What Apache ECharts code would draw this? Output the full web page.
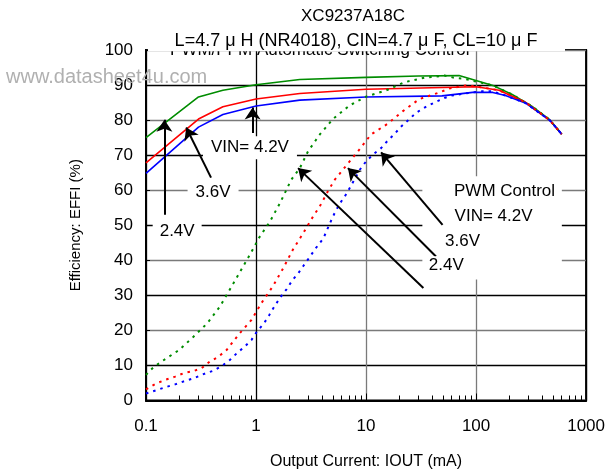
<!DOCTYPE html>
<html><head><meta charset="utf-8">
<script src="https://cdn.jsdelivr.net/npm/echarts@6/dist/echarts.min.js"></script>
<style>html,body{margin:0;padding:0;background:#fff}#c{width:608px;height:476px}</style>
</head><body><div id="c"></div>
<script>
const FONT = '"Liberation Sans", Arial, sans-serif';

// Axis tick labels
const xTickLabels = ['0.1', '1', '10', '100', '1000'];
const yTicks = [0, 10, 20, 30, 40, 50, 60, 70, 80, 90, 100];

// PWM/PFM automatic switching control (solid lines): IOUT (mA), EFFI (%)
const autoG_I = [0.1, 0.3, 0.5, 1, 2.5, 10, 30, 70, 93, 142, 213, 323, 466, 600];
const autoG_E = [75, 86.6, 88.5, 90.1, 91.6, 92.2, 92.6, 92.7, 91.6, 89.9, 87.3, 83.9, 80.1, 76];
const autoR_I = [0.1, 0.3, 0.5, 1, 2.5, 10, 50, 100, 162, 280, 466, 600];
const autoR_E = [67.8, 80.3, 83.8, 86, 87.6, 88.8, 89.3, 89.5, 88.5, 85.1, 80, 76];
const autoB_I = [0.1, 0.3, 0.5, 1, 2.5, 10, 49, 93, 142, 185, 280, 466, 600];
const autoB_E = [64.8, 78, 81.6, 84, 85.7, 86.6, 86.9, 87.9, 87.9, 87, 84.9, 80, 76];

// PWM control (dotted lines)
const pwmG_I = [0.1, 0.117, 0.14, 0.2, 0.27, 0.36, 0.47, 0.62, 0.88, 1.07, 1.34, 1.65, 2.09, 2.5, 2.97, 3.8, 5, 7.1, 10, 15.3, 22.3, 34, 51.5, 63, 78, 114, 142, 213, 323, 466, 600];
const pwmG_E = [7.3, 9.5, 11.2, 14.4, 18.2, 22, 26.8, 33.3, 41.6, 46.5, 51.1, 56.3, 63, 66.3, 71.1, 75.9, 80.3, 84.2, 86.7, 88.5, 90.8, 92.1, 92.7, 92.1, 91.8, 90.6, 89.9, 87.3, 83.9, 80.1, 76];
const pwmR_I = [0.1, 0.121, 0.149, 0.184, 0.22, 0.27, 0.32, 0.38, 0.455, 0.54, 0.69, 0.91, 1.12, 1.43, 1.77, 2.16, 2.69, 3.3, 3.8, 4.5, 5.2, 6.6, 8.6, 11.1, 15.8, 21.5, 30.5, 46.5, 57, 81, 100, 162, 280, 466, 600];
const pwmR_E = [3.2, 4.7, 5.9, 6.8, 7.8, 8.4, 9.2, 11.1, 12.5, 14.4, 18.7, 23, 27.8, 32.7, 37.8, 43, 47.8, 52.5, 55.4, 59.7, 63, 67, 71.4, 75.9, 79, 82.5, 86, 87.9, 89, 89.9, 89.6, 88.5, 85.1, 80, 76];
const pwmB_I = [0.1, 0.126, 0.15, 0.184, 0.227, 0.27, 0.35, 0.41, 0.49, 0.58, 0.67, 0.79, 0.91, 1.02, 1.18, 1.32, 1.48, 1.67, 1.9, 2.15, 2.42, 2.68, 3.1, 3.5, 4.1, 4.7, 5.2, 5.8, 6.4, 7.1, 8.8, 10, 11.5, 13.7, 15.8, 18.1, 20.9, 24, 28.5, 35, 42.4, 51.5, 60, 92.7, 114, 142, 185, 280, 466, 600];
const pwmB_E = [2, 3, 3.8, 4.6, 5.6, 6.3, 7.8, 8.5, 9.9, 11.6, 13.5, 15.4, 17.3, 19.7, 22, 24.4, 27, 29.5, 31.8, 34.4, 36.3, 38.3, 41.1, 43.5, 46.3, 50.6, 53.6, 56.3, 58.2, 60.6, 65.9, 68.2, 70.1, 72, 74.2, 76, 78.2, 79.9, 82.1, 83.8, 85.1, 86.3, 87, 87.9, 88.2, 88.2, 87, 84.9, 80, 76];

const pair = (xs, ys) => xs.map((x, i) => [x, ys[i]]);
const GREEN = '#008c00', RED = '#ff0000', BLUE = '#0000ff';

// minor tick positions of the log axis (2..9 x each decade)
const minorTicks = [];
for (let d = -1; d < 3; d++) for (let m = 2; m <= 9; m++) minorTicks.push(+(m * Math.pow(10, d)).toPrecision(3));

function solid(name, xs, ys, color) {
  return { name, type: 'line', data: pair(xs, ys), showSymbol: false, symbol: 'none',
    lineStyle: { color, width: 1.6 }, itemStyle: { color }, z: 3, animation: false, silent: true };
}
function dotted(name, xs, ys, color) {
  return { name, type: 'line', data: pair(xs, ys), showSymbol: false, symbol: 'none',
    lineStyle: { color, width: 2, type: [2.5, 5] }, itemStyle: { color }, z: 3, animation: false, silent: true };
}

const lblStyle = (txt, pad) => ({ show: true, position: 'inside', formatter: txt, color: '#000',
  fontFamily: FONT, fontSize: 17, backgroundColor: '#fff', padding: pad });
const mp = (coord, txt, pad) => ({ coord, symbol: 'rect', symbolSize: 1,
  itemStyle: { color: 'rgba(0,0,0,0)' }, label: lblStyle(txt, pad) });
const arrow = (from, to) => [{ coord: from, symbol: 'none' }, { coord: to, symbol: 'arrow', symbolSize: 12 }];

const annot = {
  name: 'annotations', type: 'line', data: [], z: 4, animation: false, silent: true,
  markArea: { silent: true, itemStyle: { color: '#fff', opacity: 1 },
    data: [[{ coord: [32.5, 64] }, { coord: [602, 34.5] }]] },
  markLine: { silent: true, symbol: ['none', 'arrow'], symbolSize: 12, animation: false,
    label: { show: false }, itemStyle: { color: '#000' },
    lineStyle: { color: '#000', width: 2, type: 'solid', opacity: 1 },
    emphasis: { disabled: true },
    data: [
      arrow([0.147, 53], [0.147, 80.1]),
      arrow([0.39, 63.6], [0.232, 77.9]),
      arrow([0.931, 76.3], [0.931, 83.6]),
      arrow([33.2, 32.1], [2.41, 66.3]),
      arrow([43.2, 41.1], [6.84, 66.3]),
      arrow([49.6, 50.1], [13.7, 70.8])
    ] },
  markPoint: { silent: true, animation: false,
    data: [
      mp([0.881, 72.1], 'VIN= 4.2V', [3, 8]),
      mp([0.407, 59.3], '3.6V', [2, 8]),
      mp([0.192, 48.2], '2.4V', [2, 7]),
      mp([181.5, 59.7], 'PWM Control', [0, 0]),
      mp([144.3, 52.5], 'VIN= 4.2V', [0, 0]),
      mp([75.3, 45.3], '3.6V', [0, 0]),
      mp([53.6, 38.7], '2.4V', [0, 0])
    ] }
};

const chart = echarts.init(document.getElementById('c'), null, { renderer: 'canvas' });
chart.setOption({
  animation: false,
  backgroundColor: '#fff',
  textStyle: { fontFamily: FONT },
  title: [
    { text: 'XC9237A18C', left: 353, top: 8, textAlign: 'center', padding: 0,
      textStyle: { fontFamily: FONT, fontSize: 17, fontWeight: 'normal', color: '#000' } }
  ],
  grid: { left: 146, right: 21, top: 50, bottom: 75.5, show: true, borderColor: '#000', borderWidth: 2, containLabel: false },
  xAxis: [{
    type: 'log', logBase: 10, min: 0.1, max: 1000,
    name: 'Output Current: IOUT (mA)', nameLocation: 'middle', nameGap: 53,
    nameTextStyle: { fontFamily: FONT, fontSize: 16, color: '#000' },
    axisLine: { lineStyle: { color: '#000', width: 2 } },
    axisTick: { show: true, inside: true, length: 7, lineStyle: { color: '#000' } },
    axisLabel: { margin: 17, fontFamily: FONT, fontSize: 17, color: '#000',
      formatter: v => xTickLabels[Math.round(Math.log10(v)) + 1] },
    splitLine: { show: true, lineStyle: { color: ['#000', '#000', '#7a7a7a', '#7a7a7a', '#000'], width: 1.3 } }
  }, {
    type: 'log', logBase: 10, min: 0.1, max: 1000, position: 'bottom',
    axisLine: { show: false }, axisLabel: { show: false }, splitLine: { show: false },
    axisTick: { show: true, inside: true, length: 5, customValues: minorTicks, lineStyle: { color: '#000' } }
  }],
  yAxis: {
    type: 'value', min: 0, max: 100, interval: 10,
    name: 'Efficiency: EFFI (%)', nameLocation: 'middle', nameGap: 63, nameRotate: 90,
    nameTextStyle: { fontFamily: FONT, fontSize: 15, color: '#000' },
    axisLine: { show: true, lineStyle: { color: '#000', width: 2 } },
    axisTick: { show: true, inside: true, length: 4, lineStyle: { color: '#000' } },
    axisLabel: { margin: 13, fontFamily: FONT, fontSize: 17, color: '#000',
      formatter: v => String(yTicks[Math.round(v / 10)]) },
    splitLine: { show: true, lineStyle: { color: ['#7a7a7a', '#000'], width: 1.3 } }
  },
  graphic: [
    { type: 'text', x: 170, y: 41.5, z: 100,
      style: { text: 'PWM/PFM Automatic Switching Control', font: '17px ' + FONT, fill: '#000' } },
    { type: 'rect', shape: { x: 148, y: 24, width: 417, height: 27.2 }, z: 100,
      style: { fill: '#ffffff', stroke: null } },
    { type: 'text', x: 356, y: 32, z: 100,
      style: { text: 'L=4.7 μ H (NR4018), CIN=4.7 μ F, CL=10 μ F', font: '18px ' + FONT, fill: '#000',
        textAlign: 'center', textVerticalAlign: 'top' } },
    { type: 'text', x: 6, y: 67, z: 100,
      style: { text: 'www.datasheet4u.com', font: '20px ' + FONT, fill: '#b0b0b0' } }
  ],
  series: [
    annot,
    solid('2.4V (auto)', autoG_I, autoG_E, GREEN),
    solid('3.6V (auto)', autoR_I, autoR_E, RED),
    solid('4.2V (auto)', autoB_I, autoB_E, BLUE),
    dotted('2.4V (PWM)', pwmG_I, pwmG_E, GREEN),
    dotted('3.6V (PWM)', pwmR_I, pwmR_E, RED),
    dotted('4.2V (PWM)', pwmB_I, pwmB_E, BLUE)
  ]
});
</script></body></html>
